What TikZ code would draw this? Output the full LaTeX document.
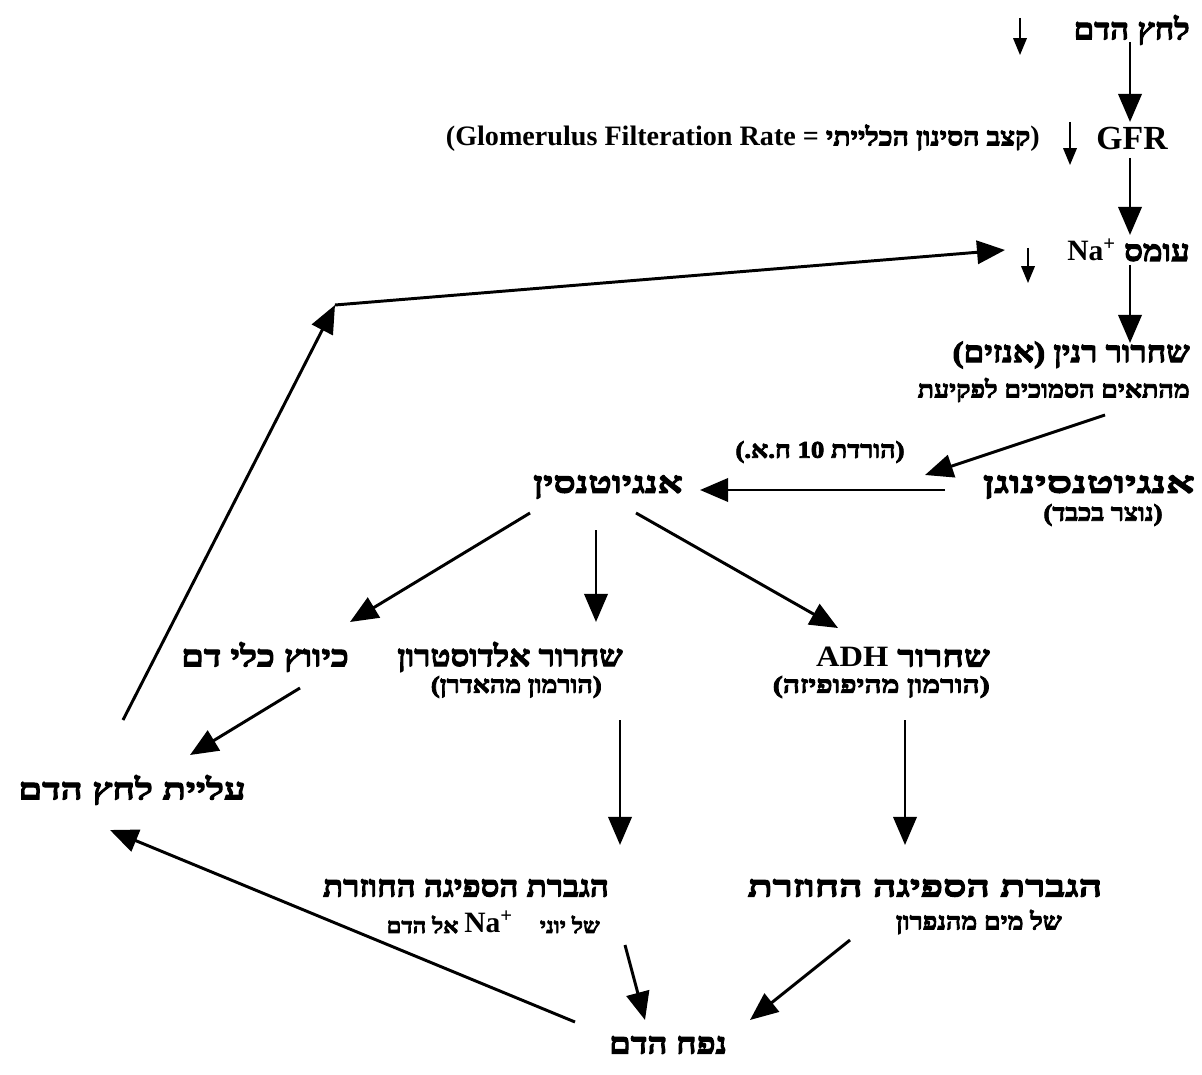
\documentclass[tikz,border=0pt]{standalone}
\usepackage{fontspec}
\setmainfont{Liberation Serif}
\newfontfamily\hebfont[Script=Hebrew, FakeStretch=1.12, BoldFeatures={FakeBold=3.5}]{Liberation Serif}
\TeXXeTstate=1
\usetikzlibrary{arrows.meta, calc}

\tikzset{
  lbl/.style={font=\hebfont\bfseries\fontsize{21}{24}\selectfont, inner sep=0pt},
  sublbl/.style={font=\hebfont\bfseries\fontsize{17}{19}\selectfont, inner sep=0pt},
  latinlbl/.style={font=\bfseries\fontsize{24}{26}\selectfont, inner sep=0pt},
  notelbl/.style={font=\bfseries\fontsize{20}{22}\selectfont, inner sep=0pt},
  flow/.style={-{Triangle[length=0.7cm,width=0.58cm]}, line width=2.1pt},
  dn/.style={-{Triangle[length=0.42cm,width=0.34cm]}, line width=1pt}
}

\begin{document}
\begin{tikzpicture}[x=0.025cm, y=-0.025cm]
            \fill[white] (0,0) rectangle (1202,1075);
            \useasboundingbox (0,0) rectangle (1202,1075);

            % Top chain - blood pressure down to renin
            \node[lbl, anchor=east] (bp) at (1190,30) {\beginR לחץ הדם\endR};
            \node[latinlbl] (gfr) at (1132,138) {GFR};
            \node[notelbl, anchor=east] (gfrnote) at (1040,138) {(Glomerulus Filteration Rate = {\hebfont\fontsize{18}{20}\selectfont\beginR קצב הסינון הכלייתי\endR})};
            \node[lbl, anchor=east] (na) at (1190,250) {\beginR עומס \beginL{\rmfamily Na\textsuperscript{+}}\endL\endR};
            \node[lbl, anchor=east] (renin) at (1190,355) {\beginR שחרור רנין (אנזים)\endR};
            \node[sublbl, anchor=east] (reninsub) at (1190,390) {\beginR מהתאים הסמוכים לפקיעת\endR};

            % Angiotensin row
            \node[sublbl] (ratenote) at (820,452) {\beginR (הורדת 10 ח.א.)\endR};
            \node[lbl, anchor=east] (angiogen) at (1195,487) {\scalebox{1.35}[1]{\beginR אנגיוטנסינוגן\endR}};
            \node[sublbl] (angiogensub) at (1103,515) {\beginR (נוצר בכבד)\endR};
            \node[lbl] (ang) at (608,487) {\scalebox{1.18}[1]{\beginR אנגיוטנסין\endR}};
            \coordinate (conv) at ($(angiogen.east)+(-270,-12)$);

            % Effects row
            \node[lbl] (vaso) at (265,657) {\scalebox{1.1}[1]{\beginR כיווץ כלי דם\endR}};
            \node[lbl] (aldo) at (510,657) {\beginR שחרור אלדוסטרון\endR};
            \node[sublbl, anchor=east] (aldosub) at (602,687) {\beginR (הורמון מהאדרן)\endR};
            \node[lbl, anchor=east] (adh) at (990,657) {\scalebox{1.1}[1]{\beginR שחרור \beginL{\rmfamily ADH}\endL\endR}};
            \node[sublbl, anchor=east] (adhsub) at (990,687) {\scalebox{1.12}[1]{\beginR (הורמון מהיפופיזה)\endR}};
            \node[lbl] (rise) at (132,790) {\scalebox{1.16}[1]{\beginR עליית לחץ הדם\endR}};

            % Reabsorption row
            \node[lbl] (reab1) at (466,888) {\beginR הגברת הספיגה החוזרת\endR};
            \node[sublbl, anchor=east, font=\hebfont\bfseries\fontsize{15}{17}\selectfont] (reab1sub) at (600,922) {\beginR של יוני \quad\beginL{\rmfamily\fontsize{21}{24}\selectfont Na\textsuperscript{+}}\endL{} אל הדם\endR};
            \node[lbl] (reab2) at (925,888) {\scalebox{1.24}[1]{\beginR הגברת הספיגה החוזרת\endR}};
            \node[sublbl, anchor=east] (reab2sub) at (1062,922) {\beginR של מים מהנפרון\endR};
            \node[lbl] (vol) at (668,1045) {\scalebox{1.05}[1]{\beginR נפח הדם\endR}};
            \coordinate (corner) at (335,305);

            % Small down marks
            \draw[dn] ($(bp.east)+(-170,-12)$) -- ++(0,37);
            \draw[dn] ($(gfr)+(-62,-16)$) -- ++(0,43);
            \draw[dn] ($(na.east)+(-162,-2)$) -- ++(0,35);

            % Connectors
            \draw[flow] ($(bp.east)+(-60,12)$) -- ($(gfr)+(-2,-16)$);
            \draw[flow] ($(gfr)+(-2,20)$) -- ($(na.east)+(-60,-15)$);
            \draw[flow] ($(na.east)+(-60,15)$) -- ($(renin.east)+(-60,-12)$);
            \draw[flow] ($(reninsub.east)+(-85,25)$) -- (conv);
            \draw[flow] ($(angiogen.east)+(-250,3)$) -- ($(ang)+(92,3)$);
            \draw[flow] ($(ang)+(-78,26)$) -- ($(vaso)+(85,-35)$);
            \draw[flow] ($(ang)+(-12,43)$) -- ($(aldo)+(86,-35)$);
            \draw[flow] ($(ang)+(28,26)$) -- ($(adh.east)+(-152,-29)$);
            \draw[flow] ($(aldosub.east)+(18,33)$) -- ($(reab1)+(154,-43)$);
            \draw[flow] ($(adhsub.east)+(-85,33)$) -- ($(reab2)+(-20,-43)$);
            \draw[flow] ($(vaso)+(35,31)$) -- ($(rise)+(58,-35)$);
            \draw[flow] ($(rise)+(-9,-70)$) -- (corner);
            \draw[flow] (corner) -- ($(na.east)+(-185,0)$);
            \draw[flow] ($(reab1sub.east)+(25,23)$) -- ($(vol)+(-23,-25)$);
            \draw[flow] ($(reab2sub.east)+(-212,18)$) -- ($(vol)+(82,-25)$);
            \draw[flow] ($(vol)+(-93,-23)$) -- ($(rise)+(-22,40)$);
\end{tikzpicture}
\end{document}
